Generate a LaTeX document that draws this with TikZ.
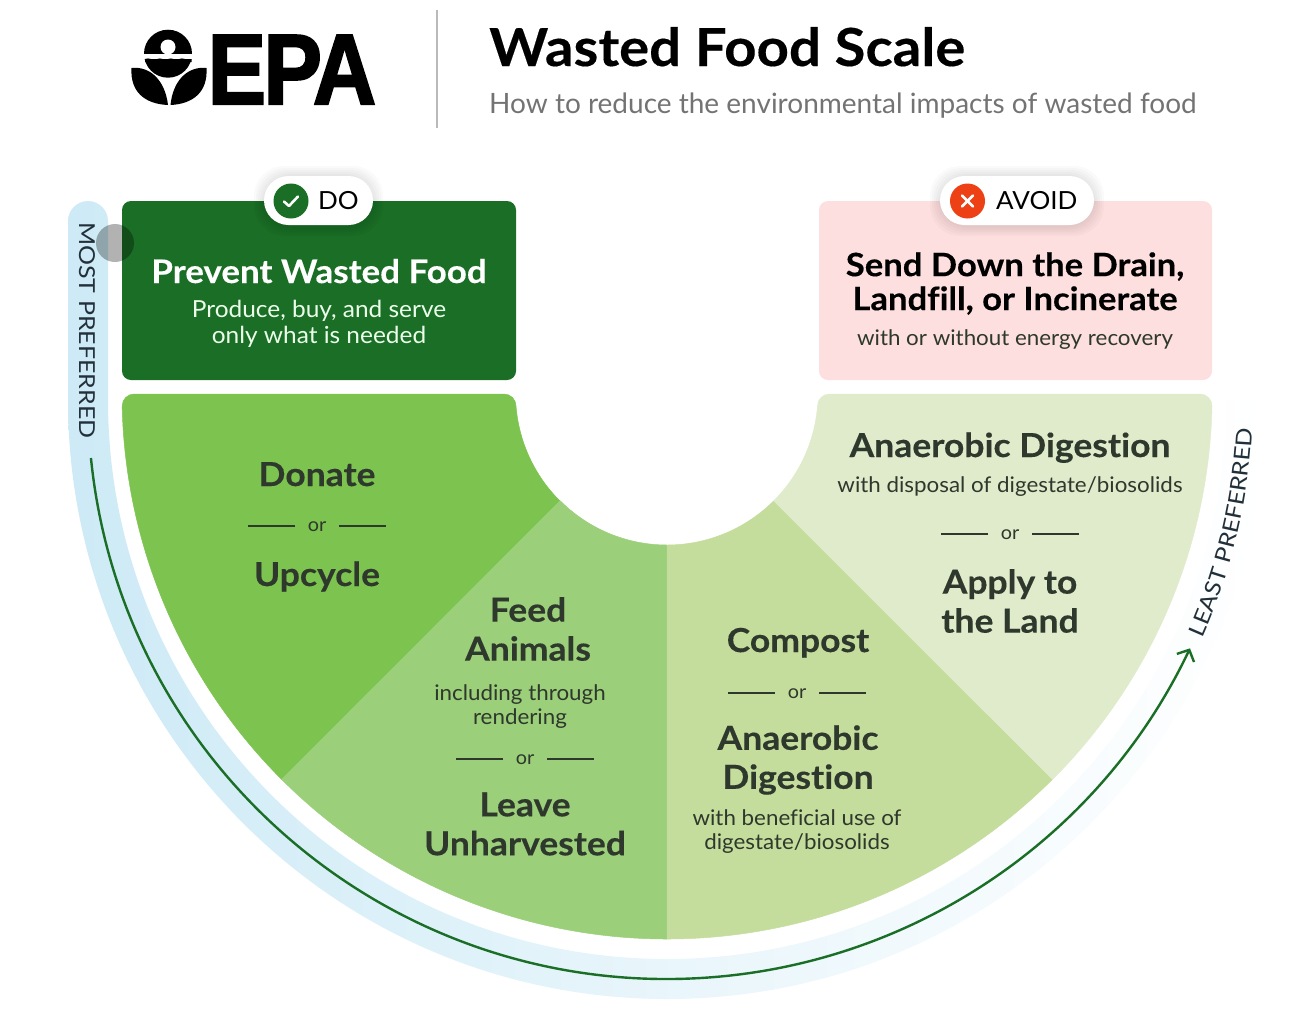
\documentclass[tikz,border=0pt]{standalone}
\usepackage{fontspec}
\setmainfont[Ligatures=NoCommon]{Lato}
\newfontfamily\logofont[FakeStretch=0.875,FakeBold=2,LetterSpace=-2.5]{Liberation Sans Bold}
\newfontfamily\headfont[FakeStretch=1.075,Ligatures=NoCommon,BoldFeatures={FakeBold=0.3}]{Lato}
\newfontfamily\bodyfont[FakeStretch=1.04,Ligatures=NoCommon]{Lato}
\newfontfamily\capfont[FakeStretch=1.135]{Lato}
\usetikzlibrary{arrows.meta,calc,decorations.text}
\definecolor{darkgreen}{HTML}{1A6E25}
\definecolor{donategreen}{HTML}{7DC34F}
\definecolor{feedgreen}{HTML}{9BCF7A}
\definecolor{compostgreen}{HTML}{C4DD9C}
\definecolor{landgreen}{HTML}{E0EBCC}
\definecolor{avoidpink}{HTML}{FDDFDF}
\definecolor{avoidred}{HTML}{EE4015}
\definecolor{darktext}{HTML}{2E382C}
\definecolor{bandblue}{HTML}{CDEAF6}
\definecolor{navytext}{HTML}{22303A}
\begin{document}
\begin{tikzpicture}[
  x=1pt,y=-1pt,
  inner sep=0pt,
  sector/.style={line width=0.5pt, line join=round},
  bigtext/.style={font=\fontsize{33}{39}\headfont\bfseries, text=darktext, align=center},
  smalltext/.style={font=\fontsize{21.5}{24}\bodyfont, text=darktext, align=center},
  ortext/.style={font=\fontsize{19}{22}\bodyfont, text=darktext, text height=11pt, text depth=0pt},
  orline/.style={draw=darktext, line width=1.6pt},
  pill/.style={draw=none, fill=white, rounded corners=24.5pt},
  halo/.style={fill=black, fill opacity=0.018},
  pilltext/.style={font=\fontsize{25}{30}\bodyfont, text=black},
  markline/.style={line width=2.6pt, draw=white, line cap=round, line join=round}
]
\useasboundingbox (0,0) rectangle (1306,1023);
\coordinate (centre) at (667,394);
\coordinate (bandcentre) at (667,400);

% logo and title
\fill[black] (168,53.7) circle (24);
\fill[white] (140,53.7) rectangle (196,59);
\fill[white] (168,47) circle (7.5);
\fill[black] (145,59) .. controls (149,57) and (153,61) .. (157,59) .. controls (161,57) and (164,61) .. (168,59) .. controls (172,57) and (175,61) .. (179,59) .. controls (183,57) and (187,61) .. (191.5,59) -- (191.5,62) -- (145,62) -- cycle;
\fill[black] (131.5,68) .. controls (150,66) and (165,80) .. (168,105) .. controls (145,104) and (130,92) .. cycle;
\fill[black] (206.5,68) .. controls (188,66) and (173,80) .. (170.5,105) .. controls (193,104) and (208,92) .. cycle;
\node[anchor=base west, font=\fontsize{100}{100}\logofont, text=black] (epa) at (207.5,104) {EPA};
\draw[draw=black!27, line width=2.5pt] (437,10) -- (437,128);
\node[anchor=base west, font=\fontsize{52.4}{60}\headfont\bfseries, text=black] (title) at (489,66) {Wasted Food Scale};
\node[anchor=base west, font=\fontsize{28}{32}\selectfont, text=black!55] (subtitle) at (489,113) {How to reduce the environmental impacts of wasted food};

% preferred band
\shade[left color=bandblue, right color=white, middle color=bandblue!45]
  (68,400) -- (68,221) arc (180:360:20) -- (108,400) arc (180:0:559) -- (1266,400) arc (0:180:599) -- cycle;
\node[rotate=-90, anchor=base west, font=\fontsize{22}{26}\capfont, text=navytext] (most) at (79,222) {MOST PREFERRED};
\coordinate (arrowstart) at ($(bandcentre)+(174.25:579)$);
\draw[draw=darkgreen, line width=2.4pt, -{Straight Barb[length=9pt,width=19pt]}] (arrowstart) arc (174.25:25.4:579);
\path[decorate, decoration={text along path, text align=left, text={|\fontsize{22}{26}\capfont\color{navytext}|LEAST PREFERRED}}]
  ($(bandcentre)+(24:586)$) arc (24:1:586);

% sectors
\fill[fill=donategreen, draw=donategreen, sector] (134,394) -- (504,394) arc (270:360:12) arc (175.44:135:151) -- ($(centre)+(135:545)$) arc (135:178.74:545) arc (180:270:12) -- cycle;
\fill[fill=feedgreen, draw=feedgreen, sector] ($(centre)+(135:151)$) -- ($(centre)+(135:545)$) arc (135:90:545) -- ($(centre)+(90:151)$) arc (90:135:151) -- cycle;
\fill[fill=compostgreen, draw=compostgreen, sector] ($(centre)+(90:151)$) -- ($(centre)+(90:545)$) arc (90:45:545) -- ($(centre)+(45:151)$) arc (45:90:151) -- cycle;
\fill[fill=landgreen, draw=landgreen, sector] (830,394) -- (1200,394) arc (270:360:12) arc (1.26:45:545) -- ($(centre)+(45:151)$) arc (45:4.56:151) arc (180:270:12) -- cycle;

% top boxes
\fill[darkgreen, rounded corners=9pt] (122,201) rectangle (516,380);
\fill[avoidpink, rounded corners=9pt] (819,201) rectangle (1212,380);
\fill[black, opacity=0.3] (115,243) circle (19);

% badges
\foreach \halosize in {2,4,6,8,10} {
  \fill[halo, rounded corners=30pt] (264-\halosize,176-\halosize) rectangle (373+\halosize,226+\halosize);
  \fill[halo, rounded corners=30pt] (940-\halosize,176-\halosize) rectangle (1094+\halosize,226+\halosize);
}
\node[pill, minimum width=109pt, minimum height=49pt] (dopill) at (318.5,200.5) {};
\node[circle, fill=darkgreen, minimum size=35pt] (docircle) at (291,201) {};
\draw[markline] (284,201.5) -- (289,206) -- (298,196.5);
\node[pilltext, anchor=base west] (dotext) at (318,209.5) {DO};
\node[pill, minimum width=154pt, minimum height=49pt] (avoidpill) at (1017,200.5) {};
\node[circle, fill=avoidred, minimum size=35pt] (avoidcircle) at (967.5,201) {};
\draw[markline] (962,195.5) -- (973,206.5);
\draw[markline] (973,195.5) -- (962,206.5);
\node[pilltext, anchor=base west] (avoidtext) at (996,209.5) {AVOID};

% box texts
\node[bigtext, font=\fontsize{32.5}{39}\headfont\bfseries, text=white, anchor=base] (prevent) at (319,283) {Prevent Wasted Food};
\node[smalltext, font=\fontsize{23.5}{26}\bodyfont, text=white!92!green] (produce) at (319,323.5) {Produce, buy, and serve\\only what is needed};
\node[bigtext, font=\fontsize{32.2}{34}\headfont\bfseries, text=black] (send) at (1015,283.5) {Send Down the Drain,\\Landfill, or Incinerate};
\node[smalltext, anchor=base] (energy) at (1015,345) {with or without energy recovery};

% sector texts
\node[bigtext, anchor=base] (donate) at (317,486) {Donate};
\node[ortext] (ordonate) at (317,526) {or};
\draw[orline] (ordonate) ++(-22,0) -- ++(-47,0);
\draw[orline] (ordonate) ++(22,0) -- ++(47,0);
\node[bigtext, anchor=base] (upcycle) at (317,586) {Upcycle};

\node[bigtext] (feed) at (528,629) {Feed\\Animals};
\node[smalltext] (rendering) at (520,707) {including through\\rendering};
\node[ortext] (orfeed) at (525,759) {or};
\draw[orline] (orfeed) ++(-22,0) -- ++(-47,0);
\draw[orline] (orfeed) ++(22,0) -- ++(47,0);
\node[bigtext] (leave) at (525,824) {Leave\\Unharvested};

\node[bigtext, anchor=base] (compost) at (798,652) {Compost};
\node[ortext] (orcompost) at (797,693) {or};
\draw[orline] (orcompost) ++(-22,0) -- ++(-47,0);
\draw[orline] (orcompost) ++(22,0) -- ++(47,0);
\node[bigtext] (digestion) at (798,760) {Anaerobic\\Digestion};
\node[smalltext] (beneficial) at (797,832) {with beneficial use of\\digestate/biosolids};

\node[bigtext, anchor=base] (anaerobic) at (1010,457) {Anaerobic Digestion};
\node[smalltext, anchor=base] (disposal) at (1010,492.5) {with disposal of digestate/biosolids};
\node[ortext] (orland) at (1010,534) {or};
\draw[orline] (orland) ++(-22,0) -- ++(-47,0);
\draw[orline] (orland) ++(22,0) -- ++(47,0);
\node[bigtext] (apply) at (1010,601) {Apply to\\the Land};
\end{tikzpicture}
\end{document}
